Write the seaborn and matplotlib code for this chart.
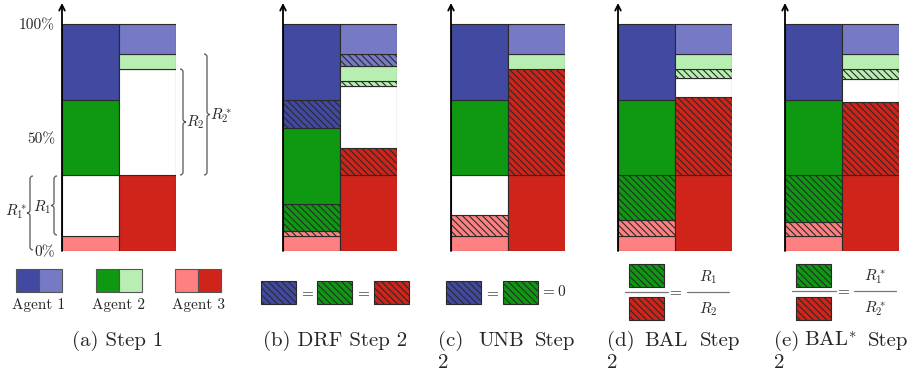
import numpy as np
import matplotlib
matplotlib.use("Agg")
import matplotlib.pyplot as plt
from matplotlib.path import Path
from matplotlib.patches import PathPatch, Rectangle
import seaborn as sns

# share (%) of each resource, stacked bottom -> top
# "A1".."A3": step-1 allocation, "A1+" etc.: extra given in step 2, "free": unused
a_r1_owner = ["A3", "free", "A2", "A1"]
a_r1_share = [6.5, 26.8, 33.3, 33.4]
a_r2_owner = ["A3", "free", "A2", "A1"]
a_r2_share = [33.3, 46.7, 6.8, 13.2]

b_r1_owner = ["A3", "A3+", "A2+", "A2", "A1+", "A1"]
b_r1_share = [6.5, 2.3, 12.1, 33.5, 12.3, 33.3]
b_r2_owner = ["A3", "A3+", "free", "A2+", "A2", "A1+", "A1"]
b_r2_share = [33.3, 12.1, 27.2, 2.5, 6.5, 5.0, 13.4]

c_r1_owner = ["A3", "A3+", "free", "A2", "A1"]
c_r1_share = [6.5, 9.2, 17.6, 33.4, 33.3]
c_r2_owner = ["A3", "A3+", "A2", "A1"]
c_r2_share = [33.3, 46.7, 6.8, 13.2]

d_r1_owner = ["A3", "A3+", "A2+", "A2", "A1"]
d_r1_share = [6.5, 7.0, 19.8, 33.4, 33.3]
d_r2_owner = ["A3", "A3+", "free", "A2+", "A2", "A1"]
d_r2_share = [33.3, 34.6, 8.1, 4.0, 6.8, 13.2]

e_r1_owner = ["A3", "A3+", "A2+", "A2", "A1"]
e_r1_share = [6.5, 6.4, 20.4, 33.3, 33.4]
e_r2_owner = ["A3", "A3+", "free", "A2+", "A2", "A1"]
e_r2_share = [33.3, 32.4, 10.1, 4.2, 6.8, 13.2]

panels = [
    (a_r1_owner, a_r1_share, a_r2_owner, a_r2_share),
    (b_r1_owner, b_r1_share, b_r2_owner, b_r2_share),
    (c_r1_owner, c_r1_share, c_r2_owner, c_r2_share),
    (d_r1_owner, d_r1_share, d_r2_owner, d_r2_share),
    (e_r1_owner, e_r1_share, e_r2_owner, e_r2_share),
]
agents = ["Agent 1", "Agent 2", "Agent 3"]
pct_ticks = [0, 50, 100]

colors = {
    (0, "A1"): "#4149A0", (0, "A2"): "#0F9811", (0, "A3"): "#FF8080",
    (1, "A1"): "#767AC4", (1, "A2"): "#B8EEB2", (1, "A3"): "#D0241A",
}
HATCH = "\\\\\\\\\\"
EDGE = "#2a2a2a"

sns.set_style("white")
plt.rcParams["font.family"] = "serif"
plt.rcParams["font.serif"] = ["cmr10"]
plt.rcParams["mathtext.fontset"] = "cm"
plt.rcParams["axes.unicode_minus"] = False
plt.rcParams["hatch.linewidth"] = 0.8
FS = 11
CAP_FS = 15

W, H = 924, 374
fig = plt.figure(figsize=(W / 100, H / 100), dpi=100)

# overlay in pixel coords for legends, braces and captions
ov = fig.add_axes([0, 0, 1, 1])
ov.set_xlim(0, W)
ov.set_ylim(H, 0)
ov.axis("off")

panel_x = [62, 283, 451, 618, 785]
col_w, y_top, y_bot, y_arrow = 114, 24, 251, 3
ymax = (y_bot - y_arrow) / (y_bot - y_top)


def seg_style(col, owner):
    if owner == "free":
        return "white", None
    return colors[(col, owner.rstrip("+"))], (HATCH if owner.endswith("+") else None)


for i, (o1, s1, o2, s2) in enumerate(panels):
    ax = fig.add_axes([panel_x[i] / W, 1 - y_bot / H, col_w / W, (y_bot - y_arrow) / H])
    for col, (owners, shares) in enumerate([(o1, s1), (o2, s2)]):
        vals = np.array(shares) / 100
        bottoms = np.concatenate([[0], np.cumsum(vals)[:-1]])
        for owner, v, b in zip(owners, vals, bottoms):
            fc, hatch = seg_style(col, owner)
            ax.bar(col, v, bottom=b, width=1, color=fc, hatch=hatch,
                   edgecolor=EDGE, linewidth=0.8)
    ax.set_xlim(-0.5, 1.5)
    ax.set_ylim(0, ymax)
    ax.patch.set_alpha(0)
    for sp in ax.spines.values():
        sp.set_visible(False)
    ax.set_xticks([])
    ax.annotate("", xy=(-0.5, ymax), xytext=(-0.5, 0),
                arrowprops=dict(arrowstyle="->", lw=1.3, color="black",
                                shrinkA=0, shrinkB=0),
                annotation_clip=False)
    if i == 0:
        ax.set_yticks(np.array(pct_ticks) / 100)
        ax.set_yticklabels([f"{t}%" for t in pct_ticks], fontsize=FS)
        ax.tick_params(axis="y", length=0, pad=5)
    else:
        ax.set_yticks([])


def brace(x, y0, y1, w, d):
    ym = (y0 + y1) / 2
    h = w / 2
    verts = [(x, y0), (x + d * h, y0), (x + d * h, y0 + h),
             (x + d * h, ym - h), (x + d * h, ym), (x + d * w, ym),
             (x + d * h, ym), (x + d * h, ym + h),
             (x + d * h, y1 - h), (x + d * h, y1), (x, y1)]
    codes = [Path.MOVETO, Path.CURVE3, Path.CURVE3, Path.LINETO,
             Path.CURVE3, Path.CURVE3, Path.CURVE3, Path.CURVE3,
             Path.LINETO, Path.CURVE3, Path.CURVE3]
    ov.add_patch(PathPatch(Path(verts, codes), fill=False, ec="#555555", lw=0.9))


brace(180, 69, 175, 6, 1)
ov.text(186, 122, r"$R_2$", fontsize=FS, va="center", ha="left")
brace(204, 54, 175, 6, 1)
ov.text(210, 116, r"$R_2^*$", fontsize=FS, va="center", ha="left")
brace(57, 176, 235, 6, -1)
ov.text(51, 207, r"$R_1$", fontsize=FS, va="center", ha="right")
brace(33, 176, 250, 6, -1)
ov.text(27, 212, r"$R_1^*$", fontsize=FS, va="center", ha="right")

# legend of panel (a)
for k, x0 in enumerate([16, 96, 175]):
    a = f"A{k + 1}"
    ov.add_patch(Rectangle((x0, 269), 23, 23, fc=colors[(0, a)], ec="#555555", lw=0.8))
    ov.add_patch(Rectangle((x0 + 23, 269), 23, 23, fc=colors[(1, a)], ec="#555555", lw=0.8))
    ov.text(x0 + 23, 305, agents[k], fontsize=FS, ha="center", va="center")


def hbox(x0, y0, owner, w=35, h=23):
    ov.add_patch(Rectangle((x0, y0), w, h, fc=colors[(0 if owner != "A3" else 1, owner)],
                           hatch=HATCH, ec=EDGE, lw=0.8))


# (b)
hbox(261, 281, "A1")
ov.text(307, 292, "$=$", fontsize=FS, ha="center", va="center")
hbox(317, 281, "A2")
ov.text(363, 292, "$=$", fontsize=FS, ha="center", va="center")
hbox(374, 281, "A3")
# (c)
hbox(446, 281, "A1")
ov.text(492, 292, "$=$", fontsize=FS, ha="center", va="center")
hbox(503, 281, "A2")
ov.text(540, 292, "$=0$", fontsize=FS, ha="left", va="center")
# (d)
hbox(629, 264, "A2")
hbox(629, 297, "A3")
ov.plot([625, 668], [292, 292], color="#777777", lw=0.9)
ov.text(675, 291, "$=$", fontsize=FS, ha="center", va="center")
ov.plot([687, 729], [292, 292], color="#777777", lw=0.9)
ov.text(708, 277, r"$R_1$", fontsize=FS, ha="center", va="center")
ov.text(708, 309, r"$R_2$", fontsize=FS, ha="center", va="center")
# (e)
hbox(796, 264, "A2")
hbox(796, 297, "A3")
ov.plot([792, 836], [291, 291], color="#777777", lw=0.9)
ov.text(843, 290, "$=$", fontsize=FS, ha="center", va="center")
ov.plot([854, 896], [291, 291], color="#777777", lw=0.9)
ov.text(875, 277, r"$R_1^*$", fontsize=FS, ha="center", va="center")
ov.text(875, 309, r"$R_2^*$", fontsize=FS, ha="center", va="center")

# captions (narrow columns: justified words, last word wraps)
ov.text(118, 341, "(a) Step 1", fontsize=CAP_FS, ha="center", va="center")
ov.text(335, 341, "(b) DRF Step 2", fontsize=CAP_FS, ha="center", va="center")
for words, xs in [(["(c)", "UNB", "Step"], [438, 478, 535]),
                  (["(d)", "BAL", "Step"], [607, 644, 700]),
                  (["(e)", r"BAL$^{*}$", "Step"], [774, 804, 868])]:
    for wd, x in zip(words, xs):
        ov.text(x, 341, wd, fontsize=CAP_FS, ha="left", va="center")
    ov.text(xs[0], 363, "2", fontsize=CAP_FS, ha="left", va="center")

fig.savefig("out.png", dpi=100)
